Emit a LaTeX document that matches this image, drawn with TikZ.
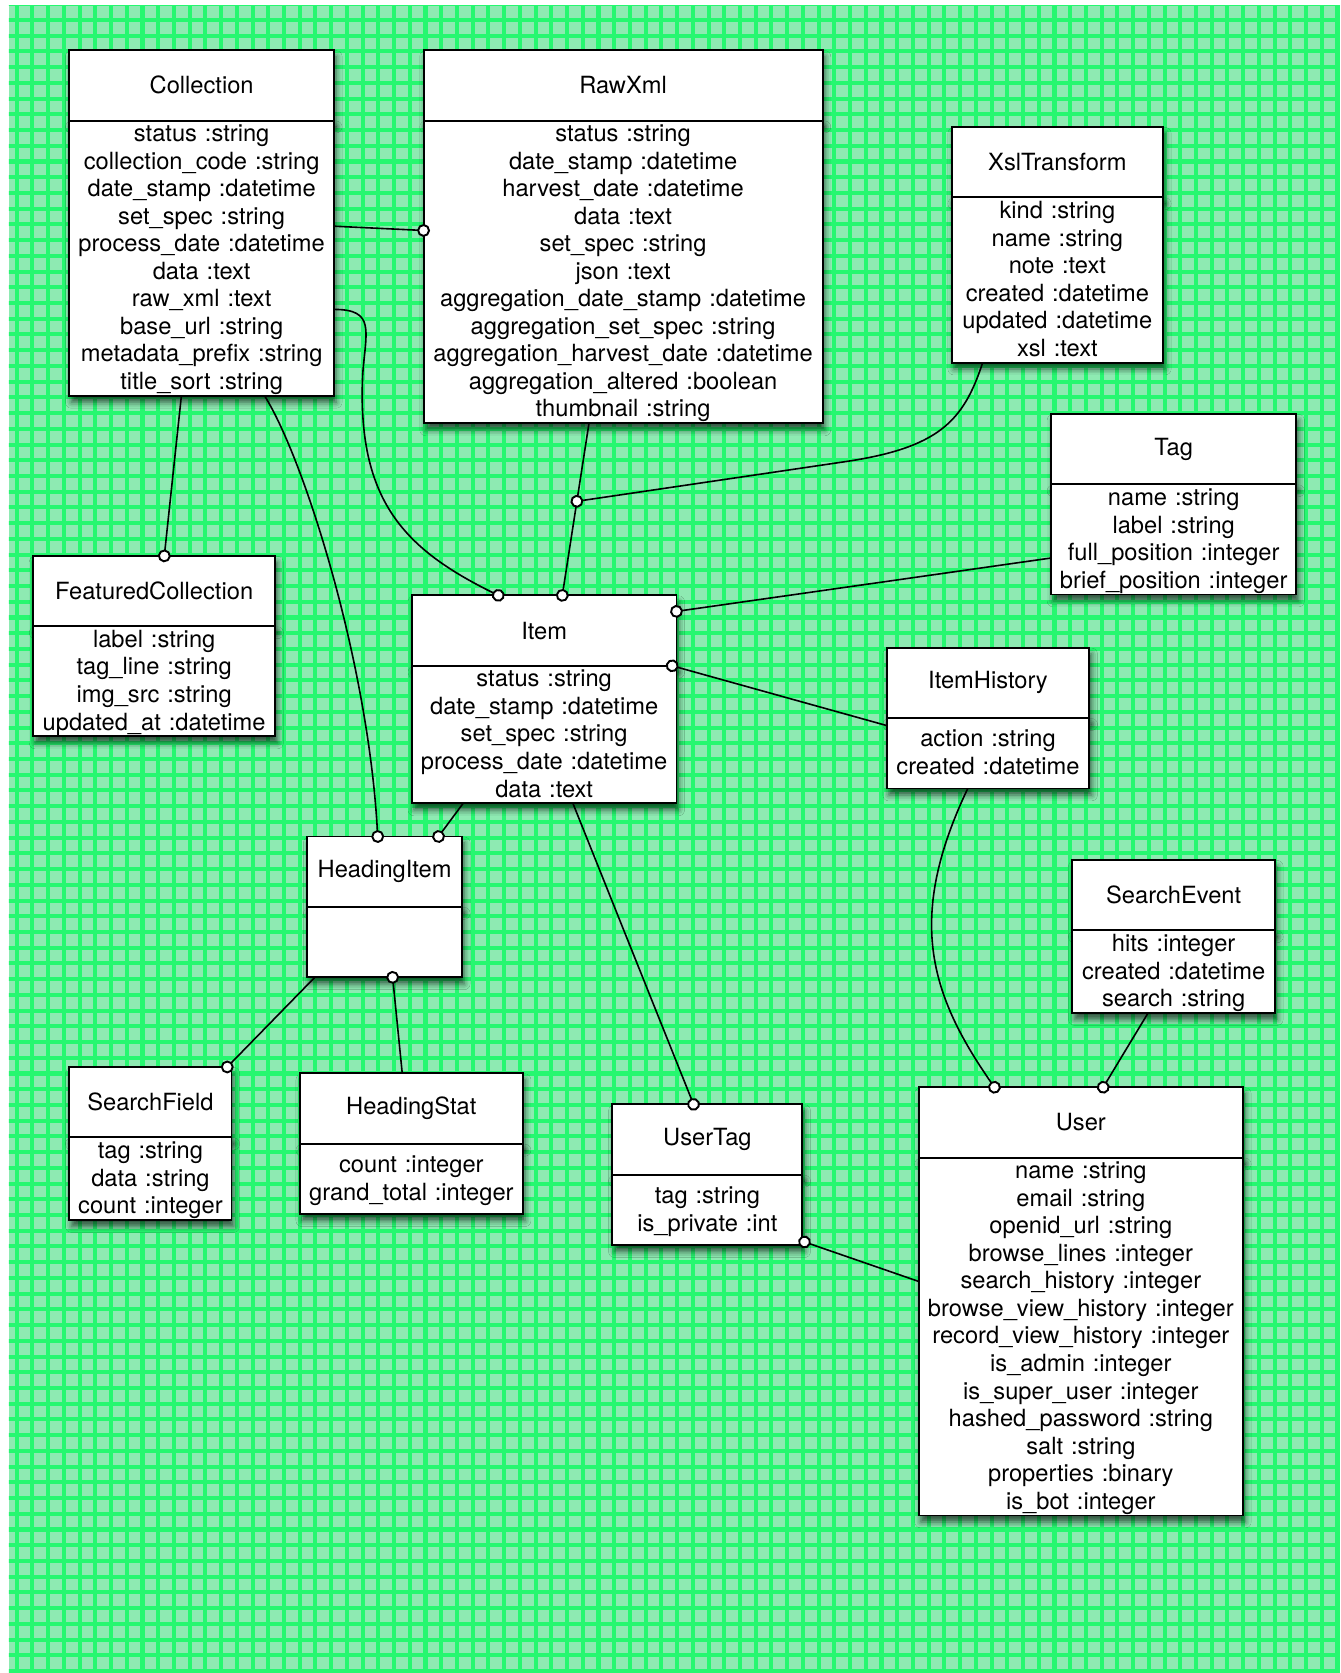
\documentclass[tikz,border=0pt]{standalone}
\usepackage{fontspec}
\setmainfont{TeX Gyre Heros}
\usetikzlibrary{shapes,arrows.meta,positioning,calc,shadows.blur}
\definecolor{cellgreen}{RGB}{142,234,178}
\definecolor{gridgreen}{RGB}{38,247,112}
\newcommand{\boxfont}{\fontsize{11.1pt}{12.9pt}\selectfont}
\newcommand{\fstrut}{\rule[-3pt]{0pt}{12.9pt}}
\tikzset{
  boxshadow/.style={blur shadow={shadow xshift=1pt, shadow yshift=-3pt, shadow blur radius=2.8pt, shadow opacity=65}},
  entity/.style={rectangle, draw, fill=white, line width=0.9pt, outer sep=0pt, inner sep=0pt,
    minimum width=#1, minimum height=33pt, font=\boxfont, boxshadow},
  fields/.style={rectangle, draw, fill=white, line width=0.9pt, outer sep=0pt, inner sep=0pt,
    text width=#1, minimum height=33pt, align=center, font=\boxfont,
    execute at begin node=\fstrut, execute at end node=\fstrut, boxshadow}
}
\tikzstyle{rel} = [draw, line width=0.75pt, -{Circle[open,fill=white,length=6pt,line width=0.9pt]}, shorten >=-3pt]
\tikzstyle{gridline} = [draw=gridgreen, line width=1.9pt]

\begin{document}
\begin{tikzpicture}[x=0.5pt, y=-0.5pt]
  \useasboundingbox (0,0) rectangle (1256,1568);
  % Background grid
  \fill [cellgreen] (8.4,5.6) rectangle (1256,1568);
  \begin{scope}
    \clip (8.4,5.6) rectangle (1256,1568);
    \foreach \i in {0,...,84} \draw [gridline] ({15.65+14.737*\i},0) -- ++(0,1568);
    \foreach \j in {0,...,106} \draw [gridline] (0,{4+14.737*\j}) -- ++(1256,0);
  \end{scope}

  % Place nodes
  \node [entity=124pt, anchor=north west] (coll) at (65,47) {Collection};
  \node [fields=124pt, below=0pt of coll] (coll-a) {status :string\\collection\_code :string\\date\_stamp :datetime\\set\_spec :string\\process\_date :datetime\\data :text\\raw\_xml :text\\base\_url :string\\metadata\_prefix :string\\title\_sort :string};

  \node [entity=187pt, anchor=north west] (raw) at (397,47) {RawXml};
  \node [fields=187pt, below=0pt of raw] (raw-a) {status :string\\date\_stamp :datetime\\harvest\_date :datetime\\data :text\\set\_spec :string\\json :text\\aggregation\_date\_stamp :datetime\\aggregation\_set\_spec :string\\aggregation\_harvest\_date :datetime\\aggregation\_altered :boolean\\thumbnail :string};

  \node [entity=99pt, anchor=north west] (xsl) at (892,119) {XslTransform};
  \node [fields=99pt, below=0pt of xsl] (xsl-a) {kind :string\\name :string\\note :text\\created :datetime\\updated :datetime\\xsl :text};

  \node [entity=115pt, anchor=north west] (tag) at (985,388) {Tag};
  \node [fields=115pt, below=0pt of tag] (tag-a) {name :string\\label :string\\full\_position :integer\\brief\_position :integer};

  \node [entity=113.5pt, anchor=north west] (feat) at (31,521) {FeaturedCollection};
  \node [fields=113.5pt, below=0pt of feat] (feat-a) {label :string\\tag\_line :string\\img\_src :string\\updated\_at :datetime};

  \node [entity=124pt, anchor=north west] (item) at (386,558) {Item};
  \node [fields=124pt, below=0pt of item] (item-a) {status :string\\date\_stamp :datetime\\set\_spec :string\\process\_date :datetime\\data :text};

  \node [entity=95pt, anchor=north west] (hist) at (831,607) {ItemHistory};
  \node [fields=95pt, below=0pt of hist] (hist-a) {action :string\\created :datetime};

  \node [entity=72.5pt, anchor=north west] (hitem) at (288,784) {HeadingItem};
  \node [fields=72.5pt, below=0pt of hitem] (hitem-a) {};

  \node [entity=95pt, anchor=north west] (sevent) at (1005,806) {SearchEvent};
  \node [fields=95pt, below=0pt of sevent] (sevent-a) {hits :integer\\created :datetime\\search :string};

  \node [entity=76pt, anchor=north west] (sfield) at (65,1000) {SearchField};
  \node [fields=76pt, below=0pt of sfield] (sfield-a) {tag :string\\data :string\\count :integer};

  \node [entity=104.5pt, anchor=north west] (hstat) at (281,1006) {HeadingStat};
  \node [fields=104.5pt, below=0pt of hstat] (hstat-a) {count :integer\\grand\_total :integer};

  \node [entity=89pt, anchor=north west] (utag) at (574,1035) {UserTag};
  \node [fields=89pt, below=0pt of utag] (utag-a) {tag :string\\is\_private :int};

  \node [entity=152pt, anchor=north west] (user) at (861,1019) {User};
  \node [fields=152pt, below=0pt of user] (user-a) {name :string\\email :string\\openid\_url :string\\browse\_lines :integer\\search\_history :integer\\browse\_view\_history :integer\\record\_view\_history :integer\\is\_admin :integer\\is\_super\_user :integer\\hashed\_password :string\\salt :string\\properties :binary\\is\_bot :integer};

  % Draw edges
  \coordinate (rawx) at ($(raw-a.south west)+(155,0)$);
  \coordinate (itemx) at ($(item.north west)+(141,0)$);
  \coordinate (xslj) at ($(rawx)!0.453!(itemx)$);
  \path [rel] ($(coll-a.north east)+(0,99)$) -- ($(raw-a.north west)+(0,103)$);
  \path [rel] ($(coll-a.north east)+(0,177)$) .. controls +(39,0) and +(3,-40) .. (340,350)
    .. controls (334,470) and (380,515) .. ($(item.north west)+(81,0)$);
  \path [rel] ($(coll-a.south west)+(105,0)$) -- ($(feat.north west)+(123,0)$);
  \path [rel] ($(coll-a.south west)+(183,0)$) .. controls +(37,59) and +(-9,-164) .. ($(hitem.north west)+(66,0)$);
  \path [rel] (rawx) -- (itemx);
  \path [rel] ($(xsl-a.south west)+(29,0)$) .. controls +(-18,55) and +(90,-13) .. (790,433) -- (xslj);
  \path [rel] ($(tag-a.north west)+(0,69)$) -- ($(item.north east)+(0,15)$);
  \path [rel] ($(hist-a.north west)+(0,7)$) -- ($(item-a.north east)+(-4,0)$);
  \path [rel] ($(item-a.south west)+(48,0)$) -- ($(hitem.north west)+(123,0)$);
  \path [rel] ($(item-a.south west)+(151,0)$) -- ($(utag.north west)+(76,0)$);
  \path [rel] ($(hitem-a.south west)+(7,0)$) -- ($(sfield.north east)+(-4,0)$);
  \path [rel] ($(hstat.north west)+(96,0)$) -- ($(hitem-a.south west)+(80,0)$);
  \path [rel] ($(hist-a.south west)+(76,0)$) .. controls +(-57,120) and +(-62,-89) .. ($(user.north west)+(71,0)$);
  \path [rel] ($(sevent-a.south west)+(71,0)$) -- ($(user.north west)+(173,0)$);
  \path [rel] ($(user-a.north west)+(0,116)$) -- ($(utag-a.south east)+(2,-3)$);
\end{tikzpicture}
\end{document}
